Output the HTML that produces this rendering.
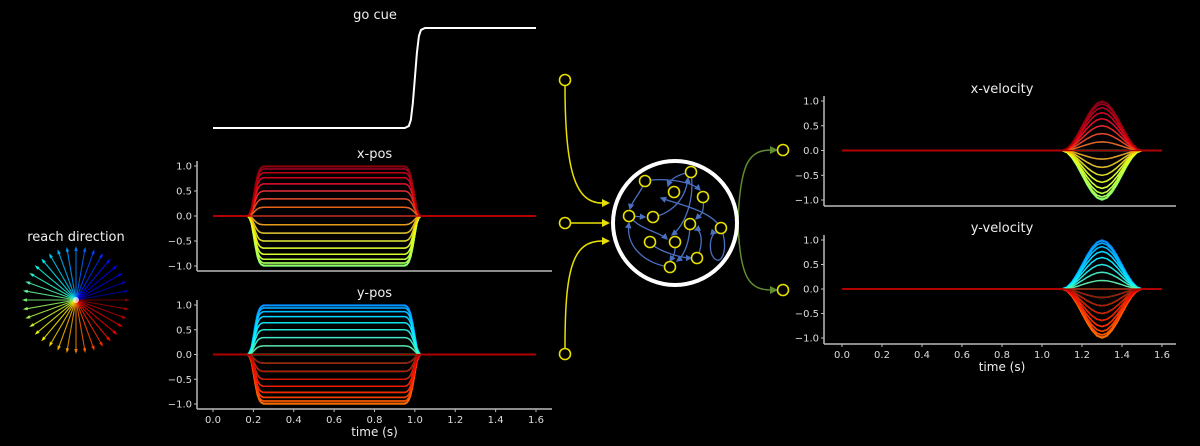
<!DOCTYPE html>
<html><head><meta charset="utf-8">
<style>
html,body{margin:0;padding:0;background:#000;}
svg{display:block;font-family:"Liberation Sans","DejaVu Sans",sans-serif;}
.tk{fill:#ddd;font-size:10px;font-family:"DejaVu Sans","Liberation Sans",sans-serif;}
.tt{fill:#eee;font-size:13px;font-family:"DejaVu Sans","Liberation Sans",sans-serif;text-anchor:middle;}
</style></head>
<body>
<svg id="fig" width="1200" height="446" viewBox="0 0 1200 446" xmlns="http://www.w3.org/2000/svg">
<defs><marker id="ah" viewBox="0 0 10 10" refX="8" refY="5" markerWidth="5" markerHeight="5" orient="auto"><path d="M0,0 L10,5 L0,10 z" fill="#4a6fc0"/></marker></defs>
<rect width="1200" height="446" fill="#000"/>
<g id="layer"></g>
</svg>
<script>
// ---- data ----
const directionsDeg = [0,10,20,30,40,50,60,70,80,90,100,110,120,130,140,150,160,170,180,190,200,210,220,230,240,250,260,270,280,290,300,310,320,330,340,350];
const posProfileT = [0,0.17,0.18,0.19,0.2,0.21,0.22,0.23,0.24,0.25,0.95,0.96,0.97,0.98,0.99,1.0,1.01,1.02,1.03,1.6];
const posProfileV = [0,0,0.04,0.15,0.38,0.62,0.82,0.93,0.98,1,1,0.98,0.93,0.82,0.62,0.38,0.15,0.04,0,0];
const velProfileT = [0,1.1,1.125,1.15,1.175,1.2,1.225,1.25,1.275,1.3,1.325,1.35,1.375,1.4,1.425,1.45,1.475,1.5,1.6];
const velProfileV = [0,0,0.04,0.15,0.31,0.5,0.69,0.85,0.96,1,0.96,0.85,0.69,0.5,0.31,0.15,0.04,0,0];
const goCueT = [0,0.95,0.97,0.98,0.99,1.0,1.01,1.02,1.03,1.05,1.6];
const goCueV = [0,0,0.02,0.08,0.25,0.5,0.75,0.92,0.98,1,1];
const yTicks = [1.0,0.5,0.0,-0.5,-1.0];
const xTicks = [0.0,0.2,0.4,0.6,0.8,1.0,1.2,1.4,1.6];

const NS='http://www.w3.org/2000/svg';
const layer=document.getElementById('layer');
function mk(tag,attrs,parent){const e=document.createElementNS(NS,tag);for(const k in attrs)e.setAttribute(k,attrs[k]);(parent||layer).appendChild(e);return e;}
function jet(x){const c=v=>Math.max(0,Math.min(1,v));return `rgb(${Math.round(255*c(1.5-Math.abs(4*x-3)))},${Math.round(255*c(1.5-Math.abs(4*x-2)))},${Math.round(255*c(1.5-Math.abs(4*x-1)))})`;}
function dirColor(d){const phi=(360-d)%360;return jet(1-phi/360);}

function makePanel(name,title,x0,x1,yTop,yBot,spineY,leftX,showX,spineRight){
  const g=mk('g',{});
  
  
  const sx=t=>x0+(x1-x0)*t/1.6;
  const sy=v=>yBot-(yBot-yTop)*(v+1)/2;
  mk('line',{x1:leftX,y1:sy(1)-5,x2:leftX,y2:spineY,stroke:'#bbb','stroke-width':1.5},g);
  mk('line',{x1:leftX,y1:spineY,x2:spineRight,y2:spineY,stroke:'#bbb','stroke-width':1.5},g);
  yTicks.forEach(v=>{
    mk('line',{x1:leftX-3,y1:sy(v),x2:leftX,y2:sy(v),stroke:'#bbb'},g);
    const t=mk('text',{x:leftX-5,y:sy(v)+3.5,class:'tk','text-anchor':'end'},g);
    
    
    t.textContent=v.toFixed(1).replace('-','\u2212');
  });
  if(showX){
    xTicks.forEach(v=>{
      mk('line',{x1:sx(v),y1:spineY,x2:sx(v),y2:spineY+3,stroke:'#bbb'},g);
      const t=mk('text',{x:sx(v),y:spineY+14,class:'tk','text-anchor':'middle'},g);
      
      
      t.textContent=v.toFixed(1);
    });
    const xl=mk('text',{x:sx(0.8),y:spineY+27,class:'tt',style:'font-size:12px'},g);
    
    
    xl.textContent='time (s)';
  }
  const tt=mk('text',{x:sx(0.8),y:yTop-8,class:'tt'},g);
  
  
  tt.textContent=title;
  return {g,sx,sy};
}
function drawFamily(p,T,V,useSin){
  directionsDeg.forEach(d=>{
    const a=d*Math.PI/180, amp=useSin?Math.sin(a):Math.cos(a);
    const pts=T.map((t,i)=>p.sx(t).toFixed(1)+','+p.sy(amp*V[i]).toFixed(1)).join(' ');
    const l=mk('polyline',{points:pts,fill:'none',stroke:dirColor(d),'stroke-width':1.5,'stroke-opacity':0.9,'stroke-linejoin':'round'},p.g);
    
    
  });
  mk('line',{x1:p.sx(0),y1:p.sy(0),x2:p.sx(1.6),y2:p.sy(0),stroke:'#a00','stroke-width':1.2},p.g);
}

(function(){
  const g=mk('g',{});
  
  
  const sx=t=>213+323*t/1.6, sy=v=>128-100*v;
  const pts=goCueT.map((t,i)=>sx(t)+','+sy(goCueV[i])).join(' ');
  const l=mk('polyline',{points:pts,fill:'none',stroke:'#fff','stroke-width':2},g);
  
  
  const t=mk('text',{x:375,y:19,class:'tt'},g);
  
  
  t.textContent='go cue';
})();

const px=makePanel('x-pos-panel','x-pos',213,536,166,266,271,197,false,552);
drawFamily(px,posProfileT,posProfileV,false);
const py=makePanel('y-pos-panel','y-pos',213,536,305,404,409,197,true,552);
drawFamily(py,posProfileT,posProfileV,true);
const vx=makePanel('x-velocity-panel','x-velocity',842,1162,101,200,206,824,false,1176);
drawFamily(vx,velProfileT,velProfileV,false);
const vy=makePanel('y-velocity-panel','y-velocity',842,1162,240,338,344,824,true,1176);
drawFamily(vy,velProfileT,velProfileV,true);

(function(){
  const g=mk('g',{});
  
  
  const cx=76,cy=300,r=52;
  directionsDeg.forEach(d=>{
    const a=d*Math.PI/180, ex=cx+r*Math.cos(a), ey=cy-r*Math.sin(a);
    const c=dirColor(d);
    const l=mk('line',{x1:cx,y1:cy,x2:ex,y2:ey,stroke:c,'stroke-width':1.1,'stroke-opacity':0.85},g);
    
    
    const hx=Math.cos(a),hy=-Math.sin(a),nx=-hy,ny=hx;
    mk('polygon',{points:`${ex+2*hx},${ey+2*hy} ${ex-3*hx+1.8*nx},${ey-3*hy+1.8*ny} ${ex-3*hx-1.8*nx},${ey-3*hy-1.8*ny}`,fill:c,opacity:0.85},g);
  });
  mk('circle',{cx:cx,cy:cy,r:3,fill:'#fff',opacity:0.7},g);
  const t=mk('text',{x:76,y:241,class:'tt'},g);
  
  
  t.textContent='reach direction';
})();

(function(){
  const g=mk('g',{});
  
  
  const Y='#e8e000';
  [[565,80,'M565,86 C565,170 575,203 602,203',203],[565,223,'M571,223 L602,223',223],[565,354,'M565,348 C565,270 572,241 602,241',241]].forEach(a=>{
    mk('path',{d:a[2],fill:'none',stroke:Y,'stroke-width':1.5},g);
    mk('polygon',{points:`610,${a[3]} 602,${a[3]-4} 602,${a[3]+4}`,fill:Y},g);
    const c=mk('circle',{cx:a[0],cy:a[1],r:5.5,fill:'none',stroke:Y,'stroke-width':1.6},g);
    
    
  });
  const G='#5f8a30';
  [[783,150,'M738,223 C740,160 750,150 772,150'],[783,290,'M738,223 C740,280 750,290 772,290']].forEach(a=>{
    mk('path',{d:a[2],fill:'none',stroke:G,'stroke-width':1.5},g);
    mk('polygon',{points:`778,${a[1]} 770,${a[1]-4} 770,${a[1]+4}`,fill:G},g);
    const c=mk('circle',{cx:a[0],cy:a[1],r:5.5,fill:'none',stroke:Y,'stroke-width':1.6},g);
    
    
  });
  const ring=mk('circle',{cx:675,cy:223,r:62,fill:'none',stroke:'#fff','stroke-width':4},g);
  
  
  const B='#4a6fc0';
  const edges=['M645,181 C660,178 690,180 700,190','M645,181 C640,195 632,200 630,209','M629,216 L645,217','M653,217 C665,215 685,205 688,178','M691,172 C675,175 670,180 668,186','M691,172 C695,200 685,225 672,235','M629,216 C640,230 660,232 667,239','M650,242 C655,250 680,258 691,258','M697,258 C705,240 700,228 695,230','M721,228 C730,250 720,270 712,255 C708,245 712,232 716,233','M670,267 C650,265 625,250 629,223','M690,224 C690,240 685,255 677,261','M675,242 C676,255 672,258 670,261','M721,228 C710,210 680,205 661,198','M703,197 C705,215 700,215 696,219'];
  edges.forEach(d=>{const e=mk('path',{d:d,fill:'none',stroke:B,'stroke-width':1.3,'marker-end':'url(#ah)'},g);
    
    });
  const nodes=[[645,181],[691,172],[674,192],[703,197],[629,216],[653,217],[690,224],[721,228],[650,242],[675,242],[697,258],[670,267]];
  nodes.forEach(n=>{const c=mk('circle',{cx:n[0],cy:n[1],r:5.5,fill:'#000',stroke:Y,'stroke-width':1.6},g);
    
    });
})();
</script>
</body></html>
